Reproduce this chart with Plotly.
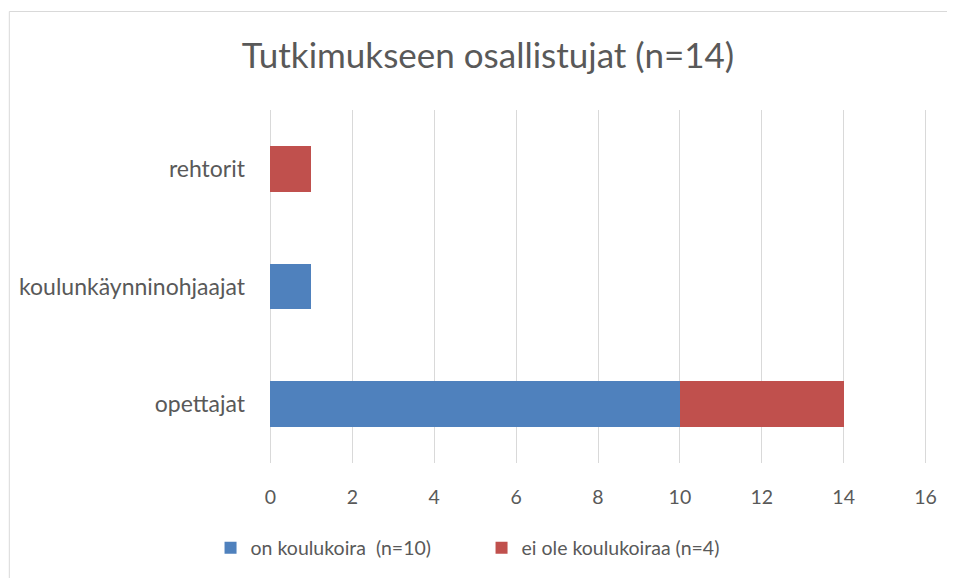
import plotly.graph_objects as go

categories = ["opettajat", "koulunkäynninohjaajat", "rehtorit"]
series_names = ["on koulukoira\u00a0 (n=10)", "ei ole koulukoiraa (n=4)"]
on_koulukoira = [10, 1, 0]
ei_koulukoiraa = [4, 0, 1]
x_ticks = [0, 2, 4, 6, 8, 10, 12, 14, 16]
title_text = "Tutkimukseen osallistujat (n=14)"

FONT = "Lato, Open Sans, sans-serif"
GREY = "#595959"

fig = go.Figure()
fig.add_trace(go.Bar(y=categories, x=on_koulukoira, name=series_names[0], orientation="h",
                     marker=dict(color="#4f81bd", line=dict(width=0)), width=0.39))
fig.add_trace(go.Bar(y=categories, x=ei_koulukoiraa, name=series_names[1], orientation="h",
                     marker=dict(color="#c0504d", line=dict(width=0)), width=0.39))

# page body has an 8px margin; figure coordinates below are screen coords minus 8
OFF = 8
W, H = 955 - OFF, 578 - OFF
X0_SCR, X16_SCR = 270, 926
PAD = 0.06
unit = (X16_SCR - X0_SCR) / 16
left_scr = X0_SCR - PAD * unit
right_scr = X16_SCR + PAD * unit
L = left_scr - OFF
R = W - (right_scr - OFF)
T, B = 110 - OFF, 578 - 463
pw, ph = W - L - R, H - T - B

def px(x):  # screen x -> paper
    return (x - OFF - L) / pw

def py(y):  # screen y -> paper
    return (H - B - (y - OFF)) / ph

fig.update_layout(
    width=W, height=H,
    barmode="stack",
    margin=dict(l=L, r=R, t=T, b=B, autoexpand=False),
    paper_bgcolor="white", plot_bgcolor="white",
    font=dict(family=FONT, color=GREY, size=19),
    title=dict(text=title_text, x=(488 - OFF) / W, xanchor="center", y=1 - (56 - OFF) / H, yanchor="middle",
               font=dict(size=35, color=GREY, family=FONT)),
    xaxis=dict(range=[-PAD, 16 + PAD], tickvals=x_ticks, showgrid=True, gridcolor="#d9d9d9", gridwidth=1,
               zeroline=False, showline=False, ticks="", tickfont=dict(size=19.5, color=GREY), ticklabelstandoff=20),
    yaxis=dict(range=[-0.5, 2.5], showgrid=False, zeroline=False, showline=False, ticks="",
               tickfont=dict(size=23, color=GREY), ticklabelstandoff=22),
    legend=dict(orientation="h", x=px(210), xanchor="left", y=py(548), yanchor="middle",
                font=dict(size=19.5, color=GREY), itemwidth=30, traceorder="normal", itemsizing="constant",
                entrywidth=226),
    showlegend=True,
    shapes=[dict(type="rect", xref="paper", yref="paper", x0=px(OFF + 0.5), x1=px(990), y0=py(620), y1=py(11.5),
                 line=dict(color="#d9d9d9", width=1), fillcolor="rgba(0,0,0,0)", layer="below")],
)

fig.write_html("out.html")
